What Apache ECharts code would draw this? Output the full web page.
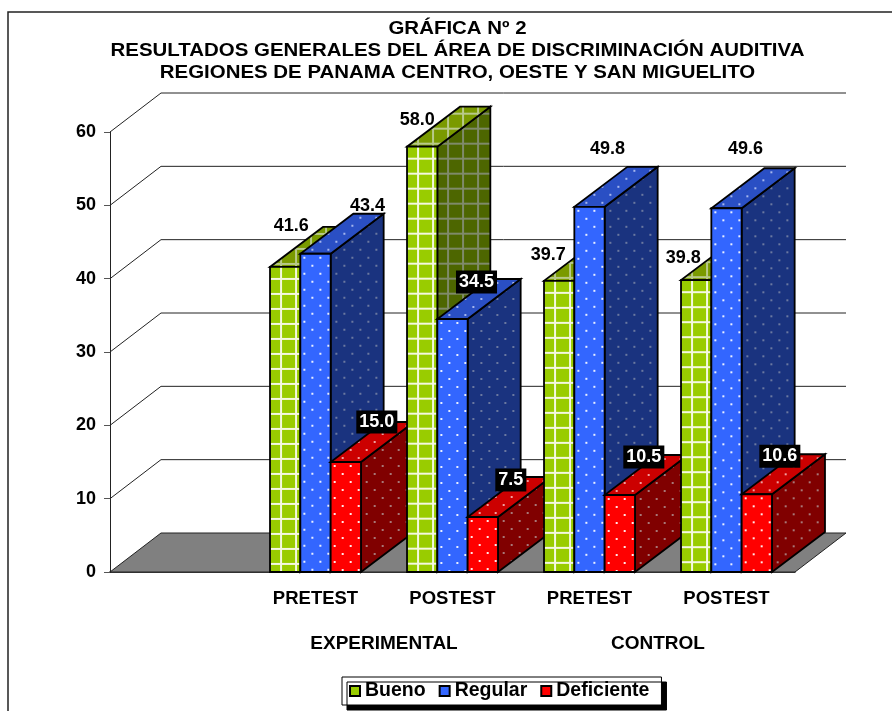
<!DOCTYPE html>
<html><head><meta charset="utf-8">
<style>html,body{margin:0;padding:0;background:#fff}#c{width:892px;height:711px}</style>
<script src="https://cdn.jsdelivr.net/npm/echarts@6/dist/echarts.min.js"></script>
</head><body><div id="c"></div>
<script>
const titleLines = ['GRÁFICA Nº 2','RESULTADOS GENERALES DEL ÁREA DE DISCRIMINACIÓN AUDITIVA','REGIONES DE PANAMA CENTRO, OESTE Y SAN MIGUELITO'];
const categories = ['', 'PRETEST', 'POSTEST', 'PRETEST', 'POSTEST'];
const bueno = [null, 41.6, 58.0, 39.7, 39.8];
const regular = [null, 43.4, 34.5, 49.8, 49.6];
const deficiente = [null, 15.0, 7.5, 10.5, 10.6];
const yTicks = [10, 20, 30, 40, 50, 60];
const groupLabels = [['EXPERIMENTAL', 1, 2], ['CONTROL', 3, 4]];
// label nudges in pixels from the centre of each bar's top edge
const nudgeBueno = [null, [6,-41], [-5,-27], [-11,-26], [-13,-22]];
const nudgeRegular = [null, [52,-48], [24,-37], [18,-58], [19,-59]];
const nudgeDeficiente = [null, [31,-40], [28,-37], [24,-38], [23,-38]];
// bars whose value label sits on a black plate
const plateBueno = [false, false, false, false, false];
const plateRegular = [false, false, true, false, false];
const plateDeficiente = [false, true, true, true, true];

const FONT = '"Liberation Sans", Arial, sans-serif';
const WALL = [51, -39], DEPTH = [53, -40], GROUP = 0.664;

function tile(size, base, draw) {
  const c = document.createElement('canvas'); c.width = c.height = size;
  const g = c.getContext('2d'); g.fillStyle = base; g.fillRect(0, 0, size, size);
  g.fillStyle = draw.color; draw.fn(g, size); return c;
}
const plaid = col => ({color: col, fn: (g, s) => { g.fillRect(7, 0, 2, s); g.fillRect(0, 7, s, 2); }});
const dots = col => ({color: col, fn: (g, s) => { g.fillRect(3, 3, 2, 2); g.fillRect(11, 11, 2, 2); }});
const paints = {
  Bueno: {front: tile(15,'#99cc00',plaid('#f4f8e0')), top: tile(15,'#7a9a00',plaid('#b8c98a')), side: tile(15,'#4d6600',plaid('#7f8a6a')), legend:'#99cc00', ox:3, oy:4},
  Regular: {front: tile(16,'#3366ff',dots('#e8eeff')), top: tile(16,'#2a4fc4',dots('#a5b6ee')), side: tile(16,'#1a337f',dots('#6a78a0')), legend:'#3366ff', ox:0, oy:0},
  Deficiente: {front: tile(16,'#ff0000',dots('#ffe8e8')), top: tile(16,'#cc0000',dots('#f0a0a0')), side: tile(16,'#800000',dots('#a87878')), legend:'#ff0000', ox:0, oy:0}
};

function barSeries(name, values, nudges, slot, plates) {
  return {
    name, type: 'custom', coordinateSystem: 'cartesian2d', clip: false, z: 3,
    itemStyle: {color: paints[name].legend, borderColor: '#000', borderWidth: 1.5},
    data: values.map((v, i) => [i, v]),
    encode: {x: 0, y: 1},
    renderItem(params, api) {
      const v = api.value(1);
      if (v == null || isNaN(v)) return null;
      const idx = api.value(0);
      const band = api.size([1, 0])[0], w = band * GROUP / 3;
      const c = api.coord([idx, 0]), t = api.coord([idx, v]);
      const x0 = c[0] - band * GROUP / 2 + slot * w, x1 = x0 + w, yb = c[1], yt = t[1];
      const dx = DEPTH[0], dy = DEPTH[1], order = idx * 10 + slot;
      const pat = (img) => ({image: img, repeat: 'repeat', x: x0 + paints[name].ox, y: yt + paints[name].oy});
      const line = {stroke: '#000', lineWidth: 1.8, lineJoin: 'miter'};
      const poly = (pts, img, k) => ({type: 'polygon', shape: {points: pts}, z2: order * 3 + k,
        style: Object.assign({fill: pat(img)}, line)});
      const n = nudges[idx], cx = (x0 + x1) / 2;
      const dark = plates[idx];
      return {type: 'group', children: [
        poly([[x1,yb],[x1+dx,yb+dy],[x1+dx,yt+dy],[x1,yt]], paints[name].side, 0),
        poly([[x0,yt],[x1,yt],[x1+dx,yt+dy],[x0+dx,yt+dy]], paints[name].top, 1),
        poly([[x0,yb],[x1,yb],[x1,yt],[x0,yt]], paints[name].front, 2),
        {type: 'text', z2: 1000, x: cx + n[0], y: yt + n[1], style: {
          text: v.toFixed(1), font: 'bold 18px ' + FONT, align: 'center', verticalAlign: 'middle',
          fill: dark ? '#fff' : '#000', backgroundColor: dark ? '#000' : 'transparent', padding: [3, 3, 2, 3]}}
      ]};
    }
  };
}

const wallSeries = {
  type: 'custom', coordinateSystem: 'cartesian2d', clip: false, z: 1, silent: true,
  data: [[0, 0]].concat(yTicks.map(v => [0, v])),
  encode: {x: 0, y: 1},
  renderItem(params, api) {
    const v = api.value(1), rect = params.coordSys;
    const p = api.coord([0, v]), x0 = rect.x, x1 = rect.x + rect.width, y = p[1];
    const [dx, dy] = WALL;
    if (v === 0) return {type: 'polygon', shape: {points: [[x0,y],[x1,y],[x1+dx,y+dy],[x0+dx,y+dy]]},
      style: {fill: '#808080', stroke: '#222', lineWidth: 1}};
    return {type: 'polyline', shape: {points: [[x0,y],[x0+dx,y+dy],[x1+dx,y+dy]]},
      style: {fill: null, stroke: '#222', lineWidth: 1}};
  }
};

const groupSeries = {
  type: 'custom', coordinateSystem: 'cartesian2d', clip: false, z: 4, silent: true,
  data: groupLabels.map(g => [g[1], 0, g[2]]),
  encode: {x: 0, y: 1},
  renderItem(params, api) {
    const a = api.coord([api.value(0), 0]), b = api.coord([api.value(2), 0]);
    return {type: 'text', x: (a[0] + b[0]) / 2, y: a[1] + 72, style: {
      text: groupLabels[params.dataIndex][0], font: 'bold 19px ' + FONT, align: 'center', verticalAlign: 'middle', fill: '#000'}};
  }
};

const chart = echarts.init(document.getElementById('c'), null, {renderer: 'canvas'});
chart.setOption({
  animation: false, backgroundColor: '#fff',
  grid: {left: 110, top: 132, width: 685, height: 440, containLabel: false},
  xAxis: {type: 'category', data: categories, boundaryGap: true,
    axisLine: {lineStyle: {color: '#000', width: 1.5}}, axisTick: {show: false},
    axisLabel: {interval: 0, margin: 17, color: '#000', fontFamily: FONT, fontWeight: 'bold', fontSize: 18.5}},
  yAxis: {type: 'value', min: 0, max: 60, interval: 10, splitLine: {show: false},
    axisLine: {show: true, lineStyle: {color: '#222', width: 1}}, axisTick: {show: true, length: 6, lineStyle: {color: '#555'}},
    axisLabel: {margin: 14, color: '#000', fontFamily: FONT, fontWeight: 'bold', fontSize: 18}},
  legend: {left: 342, top: 677, orient: 'horizontal', padding: [4, 12, 4, 7], itemGap: 13, itemWidth: 10, itemHeight: 10,
    icon: 'rect', backgroundColor: '#fff', borderColor: '#000', borderWidth: 1,
    shadowColor: '#000', shadowBlur: 0, shadowOffsetX: 5, shadowOffsetY: 5,
    textStyle: {color: '#000', fontFamily: FONT, fontWeight: 'bold', fontSize: 19.5},
    data: ['Bueno', 'Regular', 'Deficiente']},
  graphic: [{type: 'polyline', silent: true, shape: {points: [[892, 12], [8, 12], [8, 711]]},
    style: {fill: null, stroke: '#222', lineWidth: 1.5}}].concat(titleLines.map((t, i) => ({
      type: 'text', silent: true, x: 457.5, y: 29 + 22 * i, scaleX: 1.168,
      style: {text: t, font: 'bold 17.5px ' + FONT, align: 'center', verticalAlign: 'middle', fill: '#000'}}))),
  series: [wallSeries,
    barSeries('Bueno', bueno, nudgeBueno, 0, plateBueno),
    barSeries('Regular', regular, nudgeRegular, 1, plateRegular),
    barSeries('Deficiente', deficiente, nudgeDeficiente, 2, plateDeficiente),
    groupSeries]
});
</script></body></html>
